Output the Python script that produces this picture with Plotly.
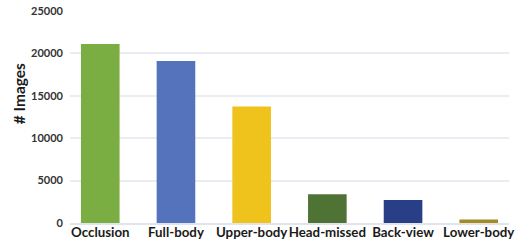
import plotly.graph_objects as go

categories = ["Occlusion", "Full-body", "Upper-body", "Head-missed", "Back-view", "Lower-body"]
images = [21100, 19100, 13750, 3400, 2700, 400]
colors = ["#7aae42", "#5572bd", "#efc21c", "#4f7335", "#283f88", "#a38b22"]
y_ticks = [0, 5000, 10000, 15000, 20000, 25000]
y_title = "# Images"

fig = go.Figure()
fig.add_trace(go.Bar(
    x=categories, y=images,
    marker=dict(color=colors, line=dict(width=0)),
    width=0.51,
))

font_fam = "Lato, Open Sans, sans-serif"
fig.update_layout(
    width=518, height=240,
    margin=dict(l=70, r=9, t=11, b=17, autoexpand=False),
    paper_bgcolor="white", plot_bgcolor="white",
    showlegend=False,
    font=dict(family=font_fam, size=11, color="#222222"),
)
fig.update_xaxes(
    range=[-0.4, 5.4],
    automargin=False,
    showgrid=False,
    showline=True, linecolor="#dfe4ee", linewidth=2,
    layer="above traces",
    ticks="",
    tickangle=0,
    ticklabelstandoff=-4,
    tickfont=dict(family=font_fam, size=13.3, color="#1a1a1a", weight="bold"),
)
fig.update_yaxes(
    range=[0, 25000],
    automargin=False,
    tickvals=y_ticks, ticktext=[str(v) for v in y_ticks],
    showgrid=True, gridcolor="#e8ecf3", gridwidth=1.5,
    zeroline=False,
    ticks="", ticklen=0,
    ticklabelstandoff=6,
    tickfont=dict(family=font_fam, size=11, color="#333333", weight="bold"),
)
fig.add_annotation(
    text=y_title, textangle=-90,
    xref="paper", yref="paper", x=-0.117, y=0.61,
    xanchor="center", yanchor="middle", showarrow=False,
    font=dict(family=font_fam, size=15.5, color="#1a1a1a", weight="bold"),
)

fig.write_html(
    "out.html",
    config={"displayModeBar": False},
    post_script="document.body.style.margin='0';document.body.style.overflow='hidden';",
)
